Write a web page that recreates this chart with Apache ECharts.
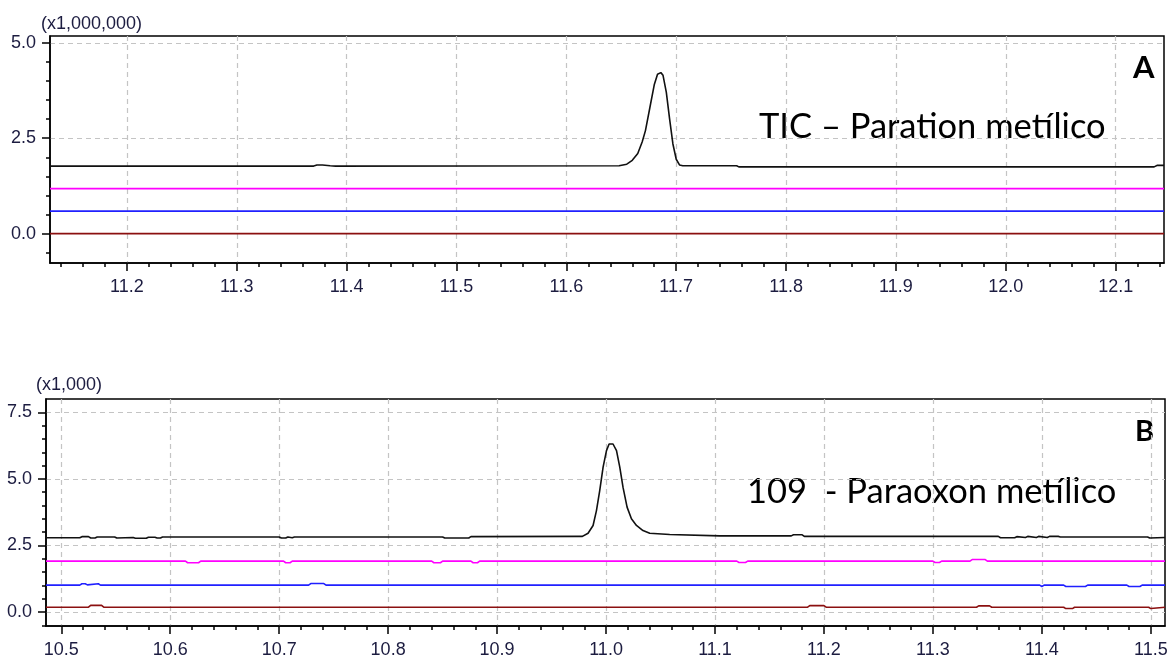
<!DOCTYPE html>
<html><head><meta charset="utf-8">
<script src="https://cdn.jsdelivr.net/npm/echarts@6/dist/echarts.min.js"></script>
<style>html,body{margin:0;padding:0;background:#fff}#c{width:1171px;height:661px}</style>
</head><body><div id="c"></div>
<script>
// ---------- Panel A (TIC) ----------
const xTicksA = [11.2, 11.3, 11.4, 11.5, 11.6, 11.7, 11.8, 11.9, 12.0, 12.1];
const yTicksA = [0.0, 2.5, 5.0];
const tTicA = [11.13, 11.37, 11.373, 11.378, 11.385, 11.39, 11.648, 11.655, 11.660, 11.665, 11.669, 11.672, 11.676, 11.680, 11.683, 11.686, 11.688, 11.691, 11.694, 11.697, 11.700, 11.703, 11.706, 11.755, 11.757, 12.135, 12.138, 12.144];
const vTicA = [1.77, 1.77, 1.80, 1.80, 1.78, 1.77, 1.78, 1.82, 1.92, 2.10, 2.40, 2.70, 3.30, 3.90, 4.18, 4.22, 4.15, 3.70, 3.00, 2.35, 1.95, 1.80, 1.78, 1.78, 1.75, 1.75, 1.79, 1.79];
const tFlatA = [11.13, 12.144];
const magA = [1.18, 1.18];
const bluA = [0.59, 0.59];
const brnA = [0.0, 0.0];

// ---------- Panel B (m/z 109) ----------
const xTicksB = [10.5, 10.6, 10.7, 10.8, 10.9, 11.0, 11.1, 11.2, 11.3, 11.4, 11.5];
const yTicksB = [0.0, 2.5, 5.0, 7.5];
const tBlkB = [10.486, 10.517, 10.519, 10.525, 10.527, 10.531, 10.533, 10.549, 10.551, 10.566, 10.568, 10.578, 10.580, 10.586, 10.588, 10.591, 10.593, 10.700, 10.702, 10.706, 10.708, 10.712, 10.714, 10.850, 10.852, 10.874, 10.876, 10.9783, 10.9835, 10.9881, 10.9912, 10.9942, 10.9973, 11.0004, 11.0028, 11.0064, 11.0096, 11.0126, 11.0156, 11.0193, 11.0233, 11.0279, 11.0339, 11.0401, 11.0584, 11.1043, 11.17, 11.172, 11.18, 11.182, 11.36, 11.362, 11.375, 11.377, 11.385, 11.387, 11.395, 11.397, 11.405, 11.407, 11.415, 11.417, 11.497, 11.499, 11.513];
const vBlkB = [2.79, 2.79, 2.83, 2.83, 2.78, 2.78, 2.82, 2.82, 2.78, 2.80, 2.77, 2.77, 2.81, 2.81, 2.78, 2.78, 2.82, 2.82, 2.78, 2.78, 2.82, 2.79, 2.82, 2.82, 2.78, 2.78, 2.83, 2.84, 2.96, 3.25, 3.81, 4.56, 5.44, 6.06, 6.31, 6.31, 6.06, 5.44, 4.68, 3.94, 3.50, 3.25, 3.06, 2.96, 2.91, 2.86, 2.86, 2.90, 2.90, 2.84, 2.84, 2.79, 2.79, 2.83, 2.80, 2.84, 2.80, 2.84, 2.80, 2.84, 2.84, 2.82, 2.82, 2.78, 2.80];
const tMagB = [10.486, 10.614, 10.616, 10.626, 10.628, 10.704, 10.706, 10.710, 10.712, 10.840, 10.842, 10.848, 10.850, 10.876, 10.878, 10.882, 10.884, 11.120, 11.122, 11.128, 11.130, 11.300, 11.302, 11.306, 11.308, 11.334, 11.336, 11.348, 11.350, 11.513];
const vMagB = [1.91, 1.91, 1.85, 1.85, 1.91, 1.91, 1.85, 1.85, 1.91, 1.91, 1.85, 1.85, 1.91, 1.91, 1.85, 1.85, 1.91, 1.91, 1.86, 1.86, 1.91, 1.91, 1.86, 1.86, 1.91, 1.91, 1.97, 1.97, 1.91, 1.91];
const tBluB = [10.486, 10.517, 10.519, 10.522, 10.524, 10.534, 10.536, 10.727, 10.729, 10.741, 10.743, 11.398, 11.400, 11.402, 11.420, 11.422, 11.440, 11.442, 11.478, 11.480, 11.490, 11.492, 11.513];
const vBluB = [1.01, 1.01, 1.06, 1.06, 1.02, 1.06, 1.01, 1.01, 1.07, 1.07, 1.01, 1.01, 0.96, 1.01, 1.01, 0.96, 0.96, 1.01, 1.01, 0.96, 0.96, 1.01, 1.01];
const tBrnB = [10.486, 10.525, 10.527, 10.537, 10.539, 11.185, 11.187, 11.200, 11.202, 11.340, 11.342, 11.352, 11.354, 11.420, 11.422, 11.428, 11.430, 11.498, 11.500, 11.513];
const vBrnB = [0.18, 0.18, 0.25, 0.25, 0.18, 0.18, 0.24, 0.24, 0.18, 0.18, 0.23, 0.23, 0.18, 0.18, 0.13, 0.13, 0.18, 0.18, 0.13, 0.18];

const zip = (a, b) => a.map((x, i) => [x, b[i]]);
const range = (a, b, s) => { const r = []; for (let k = Math.round(a / s); k * s <= b + 1e-9; k++) r.push(+(k * s).toFixed(4)); return r; };
const minorXA = range(11.14, 12.14, 0.02);
const minorYA = range(-0.5, 5.0, 0.5);
const minorXB = range(10.5, 11.5, 0.02);
const minorYB = range(-0.5, 7.5, 0.5);

const lblColor = '#1c1c40';
const lblFont = 'Liberation Sans';
const gridLine = { show: true, lineStyle: { color: '#c4c4c4', type: [5, 4], width: 1.2 } };

function majorX(gi, min, max, ticks) {
  return { type: 'value', gridIndex: gi, min, max, position: 'bottom',
    axisLine: { show: true, onZero: false, lineStyle: { color: '#000', width: 1.5 } },
    axisTick: { show: true, length: 8, customValues: ticks, lineStyle: { color: '#000', width: 1.5 } },
    axisLabel: { customValues: ticks, color: lblColor, fontFamily: lblFont, fontSize: 18, margin: 15, formatter: v => v.toFixed(1) },
    splitLine: gridLine };
}
function minorX(gi, min, max, ticks) {
  return { type: 'value', gridIndex: gi, min, max, position: 'bottom',
    axisLine: { show: false, onZero: false }, axisLabel: { show: false }, splitLine: { show: false },
    axisTick: { show: true, length: 4, customValues: ticks, lineStyle: { color: '#000', width: 1.5 } } };
}
function majorY(gi, min, max, ticks) {
  return { type: 'value', gridIndex: gi, min, max, position: 'left',
    axisLine: { show: true, onZero: false, lineStyle: { color: '#000', width: 1.5 } },
    axisTick: { show: true, length: 8, customValues: ticks, lineStyle: { color: '#000', width: 1.5 } },
    axisLabel: { customValues: ticks, color: lblColor, fontFamily: lblFont, fontSize: 18, margin: 14, formatter: v => v.toFixed(1) },
    splitLine: gridLine };
}
function minorY(gi, min, max, ticks) {
  return { type: 'value', gridIndex: gi, min, max, position: 'left', offset: 0,
    axisLine: { show: false, onZero: false }, axisLabel: { show: false }, splitLine: { show: false },
    axisTick: { show: true, length: 4, customValues: ticks, lineStyle: { color: '#000', width: 1.5 } } };
}
function line(data, color, xi, yi, w) {
  return { type: 'line', data, xAxisIndex: xi, yAxisIndex: yi, showSymbol: false, symbol: 'none',
    lineStyle: { color, width: w || 1.6 }, itemStyle: { color }, animation: false, silent: true, z: 3 };
}

const chart = echarts.init(document.getElementById('c'), null, { renderer: 'canvas' });
chart.setOption({
  animation: false,
  backgroundColor: '#fff',
  grid: [
    { left: 50, top: 36, width: 1114, height: 227, show: true, borderColor: '#000', borderWidth: 1.5, containLabel: false },
    { left: 46, top: 399, width: 1119, height: 227, show: true, borderColor: '#000', borderWidth: 1.5, containLabel: false }
  ],
  xAxis: [
    majorX(0, 11.13, 12.144, xTicksA), minorX(0, 11.13, 12.144, minorXA),
    majorX(1, 10.486, 11.513, xTicksB), minorX(1, 10.486, 11.513, minorXB)
  ],
  yAxis: [
    majorY(0, -0.77, 5.18, yTicksA), minorY(0, -0.77, 5.18, minorYA),
    majorY(1, -0.525, 8.0, yTicksB), minorY(1, -0.525, 8.0, minorYB)
  ],
  series: [
    line(zip(tFlatA, brnA), '#8b1010', 0, 0),
    line(zip(tFlatA, bluA), '#2020ff', 0, 0),
    line(zip(tFlatA, magA), '#ff00ff', 0, 0),
    line(zip(tTicA, vTicA), '#111111', 0, 0),
    line(zip(tBrnB, vBrnB), '#8b1010', 2, 2),
    line(zip(tBluB, vBluB), '#2020ff', 2, 2),
    line(zip(tMagB, vMagB), '#ff00ff', 2, 2),
    line(zip(tBlkB, vBlkB), '#111111', 2, 2)
  ],
  graphic: [
    { type: 'text', left: 41, top: 15, style: { text: '(x1,000,000)', fill: lblColor, font: '18px "Liberation Sans"' } },
    { type: 'text', left: 36, top: 376, style: { text: '(x1,000)', fill: lblColor, font: '18px "Liberation Sans"' } },
    { type: 'text', left: 759, top: 109, style: { text: 'TIC – Paration metílico', fill: '#000', font: '34.5px Lato' } },
    { type: 'text', left: 1133, top: 52, style: { text: 'A', fill: '#000', font: 'bold 31px Lato' } },
    { type: 'text', left: 747, top: 474, style: { text: '109  - Paraoxon metílico', fill: '#000', font: '34.5px Lato' } },
    { type: 'text', left: 1135, top: 417, style: { text: 'B', fill: '#000', font: 'bold 29px Lato' } }
  ]
});
</script></body></html>
